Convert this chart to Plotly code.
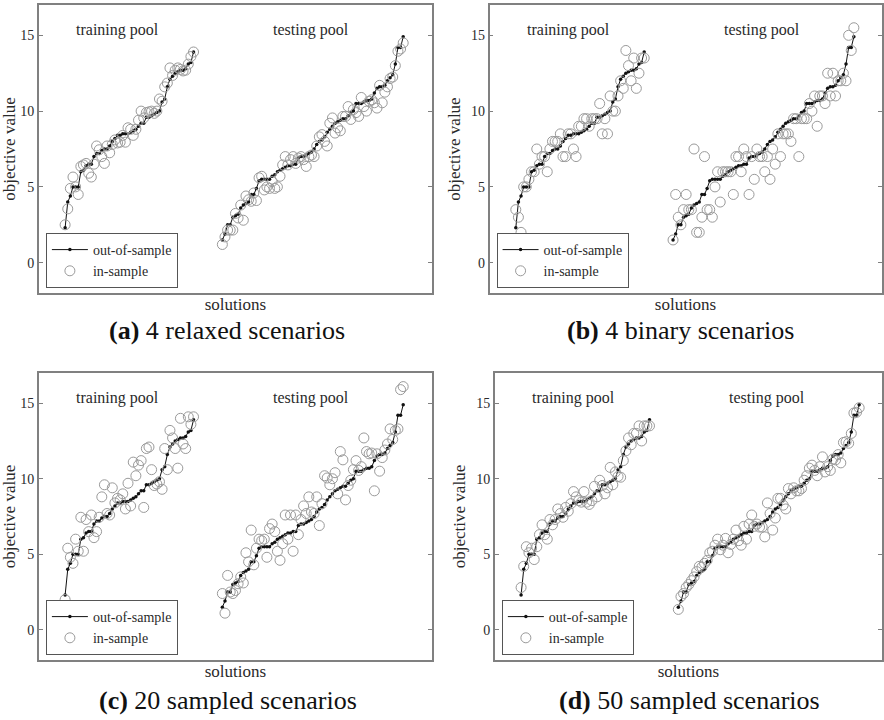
import plotly.graph_objects as go

# ---------------- data ----------------
train_idx = list(range(10, 60))
test_idx = list(range(70, 140))

oos_train = [2.3, 4.0, 4.4, 5.0, 5.0, 5.0, 6.0, 6.1, 6.4, 6.5, 6.5, 7.0, 7.2, 7.2, 7.4, 7.5, 7.5, 7.7, 8.0, 8.2,
             8.4, 8.4, 8.5, 8.5, 8.5, 8.6, 8.7, 8.8, 9.0, 9.2, 9.2, 9.6, 9.6, 9.7, 9.8, 9.9, 10.0, 10.6, 10.8, 11.6,
             12.1, 12.3, 12.5, 12.6, 12.7, 12.7, 12.8, 13.1, 13.2, 13.9]
oos_test = [1.5, 1.9, 2.5, 2.5, 3.0, 3.1, 3.2, 3.6, 3.8, 3.9, 4.0, 4.5, 4.5, 4.9, 5.4, 5.5, 5.5, 5.5, 5.5, 5.7,
            5.8, 6.0, 6.1, 6.2, 6.3, 6.4, 6.4, 6.5, 6.5, 6.9, 7.0, 7.0, 7.1, 7.2, 7.3, 7.5, 7.8, 8.0, 8.1, 8.3,
            8.6, 8.8, 9.0, 9.2, 9.3, 9.4, 9.5, 9.5, 9.7, 9.9, 10.0, 10.5, 10.5, 10.5, 10.6, 10.7, 10.7, 10.8, 11.2, 11.5,
            11.6, 11.6, 11.7, 12.0, 12.2, 12.4, 13.1, 14.2, 14.2, 14.9]

ins_train_a = [2.5, 3.55, 4.9, 5.65, 5.0, 4.5, 6.35, 6.45, 6.55, 5.9, 5.65, 6.5, 7.7, 7.45, 7.0, 6.55, 7.7, 7.25, 7.8, 8.1,
               7.9, 7.95, 8.4, 7.95, 8.9, 8.8, 8.4, 8.8, 9.4, 10.0, 9.55, 9.9, 9.95, 10.0, 9.85, 10.0, 10.8, 10.65, 11.6, 11.85,
               12.85, 12.35, 12.7, 12.85, 12.75, 12.65, 12.7, 13.1, 13.6, 13.9]
ins_test_a = [1.2, 1.7, 2.15, 2.15, 2.15, 3.25, 2.95, 3.8, 2.8, 4.4, 4.15, 4.05, 4.6, 4.1, 5.6, 5.7, 4.8, 5.0, 4.9, 5.35,
              4.9, 5.0, 5.7, 6.45, 7.0, 6.45, 6.8, 7.0, 6.55, 6.9, 7.0, 6.8, 6.35, 7.0, 7.1, 7.0, 7.7, 8.3, 8.45, 8.0,
              7.7, 9.2, 9.55, 8.55, 8.9, 8.7, 9.65, 9.65, 10.3, 9.45, 10.1, 9.9, 9.65, 10.9, 10.3, 10.0, 10.65, 10.75, 10.55, 10.2,
              11.7, 10.55, 11.25, 11.6, 12.15, 12.25, 13.0, 13.95, 14.1, 14.5]

ins_train_b = [3.5, 3.0, 2.0, 5.0, 5.0, 5.5, 6.0, 6.0, 7.5, 6.5, 7.0, 7.0, 6.0, 7.5, 8.0, 8.0, 8.0, 8.5, 7.0, 7.0,
               8.5, 8.5, 7.5, 7.0, 9.0, 9.0, 9.5, 9.5, 9.0, 9.5, 9.5, 9.5, 10.5, 8.5, 9.5, 8.5, 11.0, 10.0, 10.0, 11.0,
               12.0, 11.5, 14.0, 13.0, 12.0, 13.5, 11.5, 12.5, 13.5, 13.5]
ins_test_b = [1.5, 4.5, 3.0, 2.5, 3.5, 4.5, 3.5, 3.5, 7.5, 2.0, 2.0, 3.0, 7.0, 3.5, 3.5, 3.0, 5.0, 6.0, 4.0, 6.0,
              6.0, 6.0, 6.0, 4.5, 7.0, 7.0, 6.0, 7.5, 7.0, 4.5, 7.0, 5.5, 7.5, 7.0, 7.0, 6.0, 7.0, 5.5, 7.5, 6.5,
              8.5, 7.0, 8.5, 8.5, 8.5, 8.0, 9.5, 9.5, 7.0, 9.5, 9.5, 9.5, 10.5, 10.0, 11.0, 9.0, 11.0, 11.0, 10.5, 12.5,
              11.0, 12.5, 11.0, 12.0, 12.0, 12.5, 12.0, 15.0, 14.0, 15.5]

ins_train_c = [2.0, 5.4, 4.8, 4.4, 6.0, 5.2, 7.45, 5.2, 7.3, 6.5, 7.6, 6.1, 6.5, 7.45, 8.8, 9.6, 7.7, 7.6, 9.4, 8.4,
               8.7, 8.6, 9.0, 8.0, 9.7, 8.2, 11.1, 10.2, 10.9, 11.2, 8.1, 12.0, 12.1, 10.6, 9.55, 9.65, 9.8, 9.3, 12.0, 10.6,
               13.2, 12.7, 12.0, 10.7, 14.0, 12.3, 12.0, 14.1, 13.6, 14.1]
ins_test_c = [2.4, 1.1, 3.6, 2.5, 2.4, 2.6, 3.05, 3.5, 3.1, 5.1, 4.5, 6.6, 4.3, 5.4, 6.0, 5.9, 6.0, 4.8, 6.7, 7.0,
              6.5, 5.2, 4.6, 5.7, 7.6, 6.0, 7.6, 5.2, 7.6, 6.3, 7.3, 8.2, 7.7, 8.8, 7.8, 7.7, 8.8, 6.9, 8.35, 10.2,
              10.05, 9.6, 10.0, 10.4, 9.0, 11.8, 11.25, 8.6, 9.55, 9.9, 10.6, 11.2, 10.55, 10.8, 12.7, 11.8, 11.65, 11.7, 9.2, 11.65,
              10.5, 11.4, 11.9, 12.3, 13.3, 12.6, 13.2, 13.3, 15.9, 16.1]

ins_train_d = [2.8, 4.2, 5.5, 5.1, 5.4, 4.65, 5.5, 6.3, 6.95, 6.3, 6.0, 7.3, 6.95, 7.3, 8.0, 7.7, 7.45, 8.1, 7.85, 8.35,
               9.15, 8.8, 8.55, 8.45, 9.15, 8.45, 8.3, 8.55, 9.5, 8.8, 9.9, 9.55, 9.0, 9.4, 10.75, 9.6, 10.45, 10.15, 10.1, 11.2,
               11.85, 12.7, 12.25, 13.0, 13.0, 13.5, 12.5, 13.5, 13.5, 13.5]
ins_test_d = [1.35, 2.2, 2.4, 2.8, 3.0, 3.25, 3.5, 3.85, 4.2, 4.15, 4.4, 4.6, 5.1, 5.2, 5.6, 6.0, 5.3, 5.6, 6.05, 5.1,
              5.65, 6.0, 6.6, 5.9, 5.6, 6.85, 6.0, 7.0, 7.6, 6.85, 7.0, 6.8, 6.8, 6.15, 8.4, 7.7, 6.6, 7.4, 8.7, 8.7,
              8.25, 8.0, 9.35, 9.0, 9.4, 9.2, 9.2, 9.35, 9.9, 10.2, 10.7, 10.9, 10.55, 10.2, 10.8, 11.45, 10.45, 10.8, 10.55, 11.3,
              11.25, 11.6, 11.05, 12.4, 12.45, 12.35, 13.0, 14.35, 14.4, 14.7]

panels = [
    ("a", ins_train_a, ins_test_a, "4 relaxed scenarios"),
    ("b", ins_train_b, ins_test_b, "4 binary scenarios"),
    ("c", ins_train_c, ins_test_c, "20 sampled scenarios"),
    ("d", ins_train_d, ins_test_d, "50 sampled scenarios"),
]

y_ticks = [0, 5, 10, 15]
y_range = [-2, 17]

# ---------------- layout geometry (pixels) ----------------
W, H = 884, 720
boxes = {  # left, right, top, bottom in pixels
    "a": (39, 433, 5, 293),
    "b": (490.7, 883.5, 5, 293),
    "c": (39, 433, 373, 660),
    "d": (496, 884, 373, 660),
}
px_per_unit = 394 / 150.0
caption_pos = {"a": (228, 331), "b": (682, 331), "c": (229, 700), "d": (691, 700)}

FONT = "Liberation Serif, DejaVu Serif, serif"
TXT = "#2a2a2a"
FRAME = "#808080"

fig = go.Figure()
annotations = []
layout = {}

for k, (key, ins_tr, ins_te, caption) in enumerate(panels):
    n = "" if k == 0 else str(k + 1)
    xa, ya = "x" + n, "y" + n
    leg = "legend" + n
    l, r, t, b = boxes[key]
    xmax = (r - l) / px_per_unit

    # out-of-sample lines
    for j, (xs, ys) in enumerate([(train_idx, oos_train), (test_idx, oos_test)]):
        fig.add_trace(go.Scatter(
            x=xs, y=ys, mode="lines+markers", xaxis=xa, yaxis=ya,
            line=dict(color="#111111", width=1),
            marker=dict(symbol="circle", size=3.5, color="#111111"),
            name="out-of-sample", legend=leg, showlegend=(j == 0), legendgroup="oos" + key,
        ))
    # in-sample circles
    for j, (xs, ys) in enumerate([(train_idx, ins_tr), (test_idx, ins_te)]):
        fig.add_trace(go.Scatter(
            x=xs, y=ys, mode="markers", xaxis=xa, yaxis=ya,
            marker=dict(symbol="circle-open", size=10, color="#9a9a9a", line=dict(width=1)),
            name="in-sample", legend=leg, showlegend=(j == 0), legendgroup="ins" + key,
        ))

    layout["xaxis" + n] = dict(
        domain=[l / W, r / W], range=[0, xmax], anchor=ya,
        showgrid=False, zeroline=False, showticklabels=False, ticks="",
        showline=True, mirror=True, linecolor=FRAME, linewidth=1.5,
        title=dict(text="solutions", font=dict(family=FONT, size=17, color=TXT), standoff=4),
    )
    layout["yaxis" + n] = dict(
        domain=[1 - b / H, 1 - t / H], range=y_range, anchor=xa,
        tickvals=y_ticks, ticktext=[str(v) for v in y_ticks],
        showgrid=False, zeroline=False,
        ticks="inside", ticklen=4, tickcolor=FRAME, tickwidth=1,
        showline=True, mirror="ticks", linecolor=FRAME, linewidth=1.5,
        tickfont=dict(family=FONT, size=14, color=TXT),
        title=dict(text="objective value", font=dict(family=FONT, size=17, color=TXT), standoff=6),
    )
    layout[leg] = dict(
        x=(l + 7) / W, y=1 - (b - 5) / H, xanchor="left", yanchor="bottom",
        xref="paper", yref="paper",
        bgcolor="white", bordercolor="#555555", borderwidth=1,
        font=dict(family=FONT, size=14, color=TXT),
        itemwidth=36, tracegroupgap=0, traceorder="normal",
    )

    annotations.append(dict(x=30, y=15.35, xref=xa, yref=ya, text="training pool", showarrow=False,
                            xanchor="center", yanchor="middle",
                            font=dict(family=FONT, size=16, color=TXT)))
    annotations.append(dict(x=104, y=15.35, xref=xa, yref=ya, text="testing pool", showarrow=False,
                            xanchor="center", yanchor="middle",
                            font=dict(family=FONT, size=16, color=TXT)))
    cx, cy = caption_pos[key]
    annotations.append(dict(x=cx / W, y=1 - cy / H, xref="paper", yref="paper", showarrow=False,
                            xanchor="center", yanchor="middle",
                            text="<b>(" + key + ")</b> " + caption,
                            font=dict(family=FONT, size=26, color="#111111")))

fig.update_layout(
    width=W, height=H, margin=dict(l=0, r=0, t=0, b=0),
    paper_bgcolor="white", plot_bgcolor="white",
    annotations=annotations, **layout,
)

fig.write_html("out.html")
